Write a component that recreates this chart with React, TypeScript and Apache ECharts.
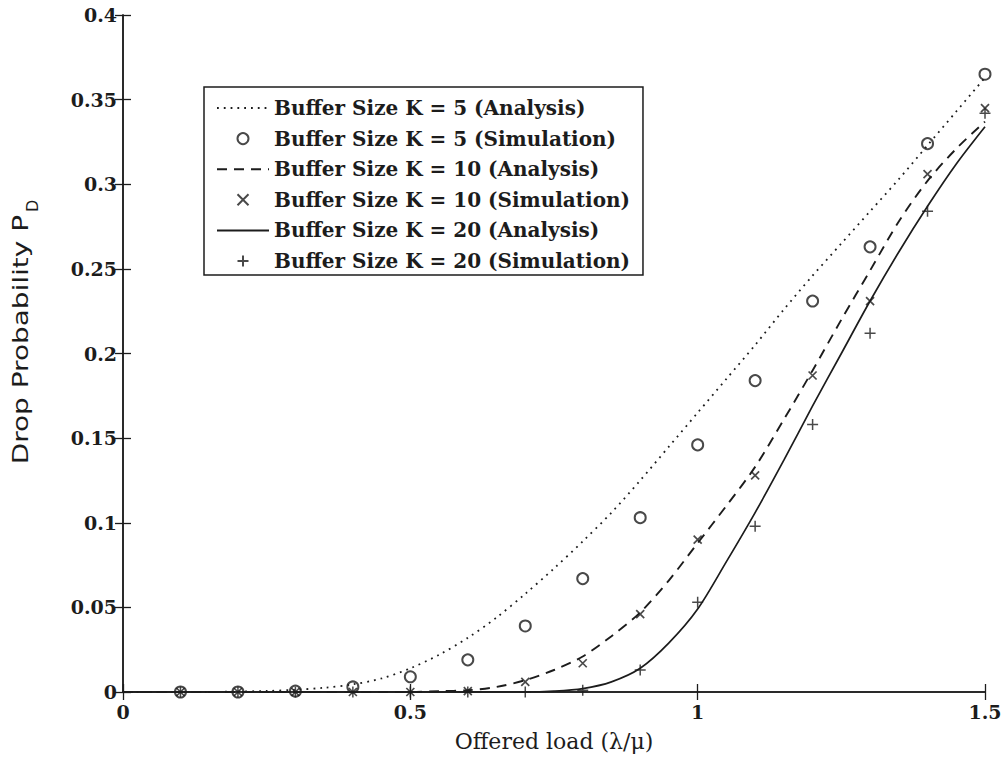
import React, { useEffect, useRef } from "react";
import * as echarts from "echarts";

// Analysis curves (sampled every 0.05 of offered load)
const xAnalysis = [0, 0.05, 0.1, 0.15, 0.2, 0.25, 0.3, 0.35, 0.4, 0.45, 0.5, 0.55, 0.6, 0.65, 0.7, 0.75, 0.8, 0.85, 0.9, 0.95, 1.0, 1.05, 1.1, 1.15, 1.2, 1.25, 1.3, 1.35, 1.4, 1.45, 1.5];
const k5Analysis = [0, 0, 0, 0, 0.0003, 0.0006, 0.0013, 0.0025, 0.0045, 0.008, 0.014, 0.022, 0.032, 0.044, 0.058, 0.073, 0.089, 0.106, 0.125, 0.145, 0.165, 0.185, 0.205, 0.226, 0.246, 0.265, 0.284, 0.303, 0.323, 0.343, 0.363];
const k10Analysis = [0, 0, 0, 0, 0, 0, 0, 0, 0, 0, 0, 0.0005, 0.001, 0.003, 0.007, 0.013, 0.021, 0.033, 0.047, 0.066, 0.088, 0.11, 0.133, 0.161, 0.19, 0.22, 0.249, 0.278, 0.302, 0.321, 0.337];
const k20Analysis = [0, 0, 0, 0, 0, 0, 0, 0, 0, 0, 0, 0, 0, 0, 0, 0.0005, 0.002, 0.006, 0.014, 0.029, 0.049, 0.077, 0.106, 0.137, 0.169, 0.2, 0.231, 0.26, 0.287, 0.312, 0.334];

// Simulation points
const xSim = [0.1, 0.2, 0.3, 0.4, 0.5, 0.6, 0.7, 0.8, 0.9, 1.0, 1.1, 1.2, 1.3, 1.4, 1.5];
const k5Sim = [0, 0, 0.0005, 0.003, 0.009, 0.019, 0.039, 0.067, 0.103, 0.146, 0.184, 0.231, 0.263, 0.324, 0.365];
const k10Sim = [0, 0, 0, 0, 0, 0.0005, 0.006, 0.017, 0.046, 0.09, 0.128, 0.187, 0.231, 0.306, 0.345];
const k20Sim = [0, 0, 0, 0, 0, 0, 0, 0.001, 0.013, 0.053, 0.098, 0.158, 0.212, 0.284, 0.342];

const names = [
  "Buffer Size K = 5 (Analysis)",
  "Buffer Size K = 5 (Simulation)",
  "Buffer Size K = 10 (Analysis)",
  "Buffer Size K = 10 (Simulation)",
  "Buffer Size K = 20 (Analysis)",
  "Buffer Size K = 20 (Simulation)",
];

const INK = "#1c1c1c";
const SERIF = "'DejaVu Serif', 'Liberation Serif', serif";
const SANS = "'DejaVu Sans', 'Liberation Sans', sans-serif";

const CROSS = "path://M0,0L10,10M0,10L10,0";
const PLUS = "path://M5,0L5,10M0,5L10,5";

const pairs = (xs: number[], ys: number[]) => xs.map((x, i) => [x, ys[i]]);

export default function App() {
  const ref = useRef<HTMLDivElement>(null);
  useEffect(() => {
    document.body.style.margin = "0";
    const chart = echarts.init(ref.current!, null, { renderer: "svg" });
    const tickCommon = { show: true, inside: true, length: 8, lineStyle: { color: INK, width: 1.3 } };
    const lineCommon = { show: true, lineStyle: { color: INK, width: 1.5 } };
    const hiddenIcon = { color: "rgba(0,0,0,0)", borderWidth: 0, opacity: 0 };
    chart.setOption({
      animation: false,
      backgroundColor: "#ffffff",
      grid: { left: 123, right: 20, top: 15, bottom: 70, containLabel: false },
      xAxis: [
        {
          type: "value",
          min: 0,
          max: 1.5,
          interval: 0.5,
          position: "bottom",
          axisLine: lineCommon,
          axisTick: tickCommon,
          splitLine: { show: false },
          axisLabel: { margin: 10, color: INK, fontFamily: SERIF, fontSize: 19, fontWeight: "bold" },
          name: "Offered load (λ/μ)",
          nameLocation: "middle",
          nameGap: 38,
          nameTextStyle: { color: INK, fontFamily: SERIF, fontSize: 22 },
        },
        {
          type: "value",
          min: 0,
          max: 1.5,
          interval: 0.5,
          position: "top",
          axisLine: lineCommon,
          axisTick: tickCommon,
          axisLabel: { show: false },
          splitLine: { show: false },
        },
      ],
      yAxis: [
        {
          type: "value",
          min: 0,
          max: 0.4,
          interval: 0.05,
          position: "left",
          axisLine: lineCommon,
          axisTick: tickCommon,
          splitLine: { show: false },
          axisLabel: { margin: 6, color: INK, fontFamily: SERIF, fontSize: 19, fontWeight: "bold" },
        },
        {
          type: "value",
          min: 0,
          max: 0.4,
          interval: 0.05,
          position: "right",
          axisLine: lineCommon,
          axisTick: tickCommon,
          axisLabel: { show: false },
          splitLine: { show: false },
        },
      ],
      legend: {
        orient: "vertical",
        left: 204,
        top: 87,
        data: [
          { name: names[0], itemStyle: hiddenIcon },
          { name: names[1] },
          { name: names[2], itemStyle: hiddenIcon },
          { name: names[3] },
          { name: names[4], itemStyle: hiddenIcon },
          { name: names[5] },
        ],
        padding: [10, 13, 3, 12],
        itemGap: 8.6,
        itemWidth: 52,
        itemHeight: 11,
        borderColor: INK,
        borderWidth: 1.5,
        backgroundColor: "#ffffff",
        textStyle: { color: INK, fontFamily: SERIF, fontSize: 20, fontWeight: "bold", lineHeight: 22 },
      },
      graphic: [
        {
          type: "group",
          x: 21,
          y: 215,
          rotation: Math.PI / 2,
          children: [
            {
              type: "text",
              x: 0,
              y: 0,
              scaleX: 1.27,
              style: {
                text: "Drop Probability P",
                fill: INK,
                font: `22px ${SANS}`,
                textAlign: "right",
                textVerticalAlign: "middle",
              },
            },
            {
              type: "text",
              x: 3,
              y: 11,
              style: {
                text: "D",
                fill: INK,
                font: `16px ${SANS}`,
                textAlign: "left",
                textVerticalAlign: "middle",
              },
            },
          ],
        },
      ],
      series: [
        {
          name: names[0],
          type: "line",
          data: pairs(xAnalysis, k5Analysis),
          symbol: "none",
          smooth: 0.3,
          lineStyle: { color: INK, width: 1.8, type: [1.8, 5] },
          itemStyle: { color: INK },
        },
        {
          name: names[1],
          type: "scatter",
          data: pairs(xSim, k5Sim),
          symbol: "emptyCircle",
          symbolSize: 11,
          itemStyle: { color: INK, borderColor: INK, borderWidth: 1.8 },
        },
        {
          name: names[2],
          type: "line",
          data: pairs(xAnalysis, k10Analysis),
          symbol: "none",
          smooth: 0.3,
          lineStyle: { color: INK, width: 1.9, type: [10, 7] },
          itemStyle: { color: INK },
        },
        {
          name: names[3],
          type: "scatter",
          data: pairs(xSim, k10Sim),
          symbol: CROSS,
          symbolSize: 8,
          itemStyle: { color: "none", borderColor: INK, borderWidth: 1.7 },
        },
        {
          name: names[4],
          type: "line",
          data: pairs(xAnalysis, k20Analysis),
          symbol: "none",
          smooth: 0.3,
          lineStyle: { color: INK, width: 1.7, type: "solid" },
          itemStyle: { color: INK },
        },
        {
          name: names[5],
          type: "scatter",
          data: pairs(xSim, k20Sim),
          symbol: PLUS,
          symbolSize: 11,
          itemStyle: { color: "none", borderColor: INK, borderWidth: 1.5 },
        },
      ],
    });
    return () => chart.dispose();
  }, []);
  return <div ref={ref} style={{ width: 1005, height: 762 }} />;
}
